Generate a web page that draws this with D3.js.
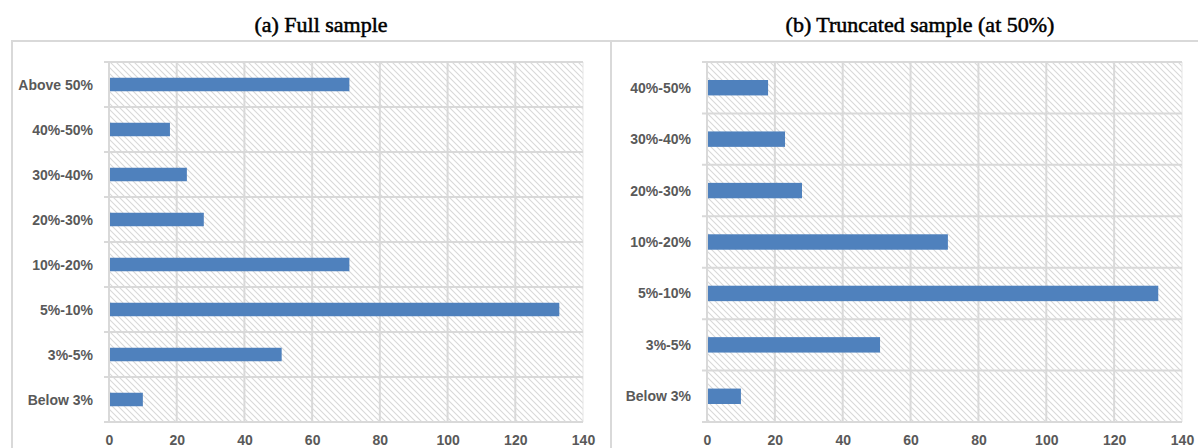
<!DOCTYPE html>
<html>
<head>
<meta charset="utf-8">
<script src="https://cdn.jsdelivr.net/npm/d3@7"></script>
<style>
  body { margin: 0; background: #fff; }
  .title { font-family: "Liberation Serif", serif; font-size: 22px; fill: #000; stroke: #000; stroke-width: 0.5px; }
  .lbl { font-family: "Liberation Sans", Arial, sans-serif; font-size: 14px; font-weight: bold; fill: #595959; }
</style>
</head>
<body>
<div id="chart"></div>
<script>
// data
const catsA = ["Above 50%", "40%-50%", "30%-40%", "20%-30%", "10%-20%", "5%-10%", "3%-5%", "Below 3%"];
const valsA = [71, 18, 23, 28, 71, 133, 51, 10];
const catsB = ["40%-50%", "30%-40%", "20%-30%", "10%-20%", "5%-10%", "3%-5%", "Below 3%"];
const valsB = [18, 23, 28, 71, 133, 51, 10];
const xTicks = [0, 20, 40, 60, 80, 100, 120, 140];
const titleA = "(a) Full sample";
const titleB = "(b) Truncated sample (at 50%)";

const width = 1198, height = 448;
const gridCol = "#d9d9d9", barCol = "#4f81bd";

const svg = d3.select("#chart").append("svg")
    .attr("width", width)
    .attr("height", height);

// hatch pattern
const pat = svg.append("defs").append("pattern")
    .attr("id", "hatch")
    .attr("patternUnits", "userSpaceOnUse")
    .attr("width", 6).attr("height", 6);
pat.append("path")
    .attr("d", "M-1,-1 L7,7 M-4,2 L2,8 M4,-2 L8,2")
    .attr("stroke", "#d8d8d8")
    .attr("stroke-width", 1.1);

// panel frames
svg.append("path")
    .attr("d", "M12,450 L12,41 L1200,41 M611,41 L611,450")
    .attr("fill", "none")
    .attr("stroke", gridCol)
    .attr("stroke-width", 2);

function panel(cats, vals, left, right, title, titleX) {
    const top = 62, bottom = 422;
    const x = d3.scaleLinear().domain([0, 140]).range([left, right]);
    const y = d3.scaleBand().domain(cats).range([top, bottom]).padding(0);

    const g = svg.append("g");

    g.append("rect")
        .attr("x", left).attr("y", top)
        .attr("width", right - left).attr("height", bottom - top)
        .attr("fill", "url(#hatch)");

    // vertical gridlines
    g.selectAll(".vg")
        .data(xTicks)
        .enter()
        .append("line")
            .attr("x1", d => x(d)).attr("x2", d => x(d))
            .attr("y1", top).attr("y2", bottom)
            .attr("stroke", d => d === 140 ? "#e6e6e6" : gridCol)
            .attr("stroke-width", d => d === 140 ? 1 : 2);

    // horizontal category lines
    const bounds = cats.map(c => y(c)).concat([bottom]);
    g.selectAll(".hg")
        .data(bounds)
        .enter()
        .append("line")
            .attr("x1", left - 5).attr("x2", right)
            .attr("y1", d => d).attr("y2", d => d)
            .attr("stroke", gridCol)
            .attr("stroke-width", 2);

    // bars
    const bh = y.bandwidth() * 0.3;
    g.selectAll(".bar")
        .data(vals)
        .enter()
        .append("rect")
            .attr("x", x(0) + 1)
            .attr("y", (d, i) => y(cats[i]) + y.bandwidth() / 2 - bh / 2)
            .attr("width", d => x(d) - x(0) - 1)
            .attr("height", bh)
            .attr("fill", barCol);

    // category labels
    g.selectAll(".cl")
        .data(cats)
        .enter()
        .append("text")
            .attr("class", "lbl")
            .attr("x", left - 16)
            .attr("y", d => y(d) + y.bandwidth() / 2 + 5)
            .attr("text-anchor", "end")
            .text(d => d);

    // x axis
    const ax = g.append("g")
        .attr("transform", "translate(0," + (bottom + 23) + ")")
        .call(d3.axisBottom(x).tickValues(xTicks).tickSize(0).tickPadding(0));
    ax.select(".domain").remove();
    ax.selectAll("text")
        .attr("class", "lbl")
        .attr("dy", 0)
        .attr("y", 0)
        .style("font-family", null)
        .style("font-size", null);

    svg.append("text")
        .attr("class", "title")
        .attr("x", titleX)
        .attr("y", 32)
        .attr("text-anchor", "middle")
        .text(title);
}

panel(catsA, valsA, 109, 583, titleA, 321);
panel(catsB, valsB, 707, 1182, titleB, 920);
</script>
</body>
</html>
